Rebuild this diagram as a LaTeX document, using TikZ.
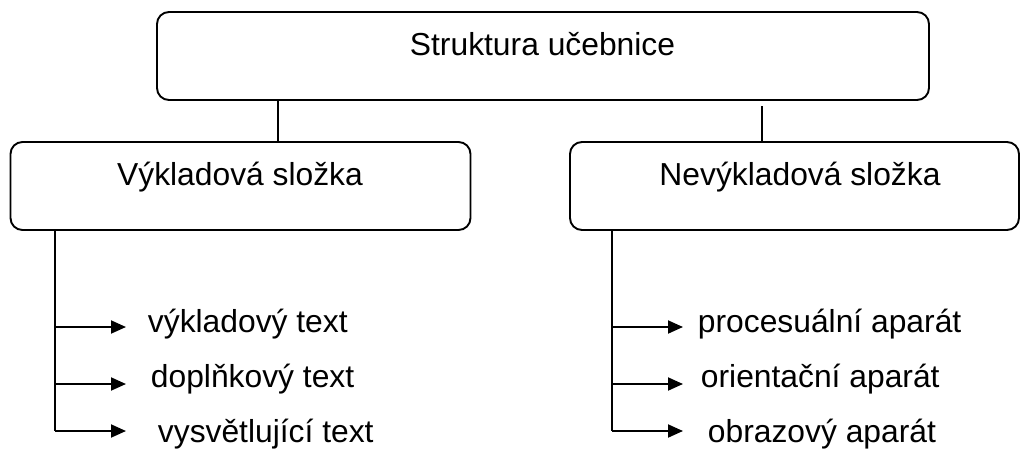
\documentclass[tikz,border=0pt]{standalone}
\usepackage{fontspec}
\setmainfont{Liberation Sans}
\usetikzlibrary{arrows.meta}
\begin{document}
\begin{tikzpicture}[x=1pt,y=-1pt,
  line width=1.9pt,
  box/.style={draw, rounded corners=12pt, inner sep=0pt},
  lbl/.style={inner sep=0pt, anchor=base, font=\fontsize{31.8}{38}\selectfont},
  item/.style={inner sep=0pt, anchor=base west, font=\fontsize{31.8}{38}\selectfont},
  arr/.style={-{Triangle[length=15pt,width=13pt]}}]
\useasboundingbox (0,0) rectangle (1021,450);

% boxes
\node[box, minimum width=772pt, minimum height=88pt] (top) at (543,56) {};
\node[box, minimum width=460pt, minimum height=88pt] (lb) at (240.5,186) {};
\node[box, minimum width=449pt, minimum height=88pt] (rb) at (794.5,186) {};

% box titles
\node[lbl] (ttop) at (542.5,55) {Struktura učebnice};
\node[lbl] (tlb) at (240,185) {Výkladová složka};
\node[lbl] (trb) at (800,185) {Nevýkladová složka};

% links from the top box
\coordinate (jl) at (278,0);
\coordinate (jr) at (762,106);
\draw (top.south -| jl) -- (lb.north -| jl);
\draw (jr) -- (rb.north -| jr);

% items
\node[item] (l1) at (147,332) {výkladový text};
\node[item] (l2) at (150,387) {doplňkový text};
\node[item] (l3) at (157,442) {vysvětlující text};
\node[item] (r1) at (697,332) {procesuální aparát};
\node[item] (r2) at (700,387) {orientační aparát};
\node[item] (r3) at (707,442) {obrazový aparát};

% trunks and arrow tips
\coordinate (tl) at (55,431);
\coordinate (tr) at (612,431);
\coordinate (al1) at (126,327);
\coordinate (al2) at (126,384);
\coordinate (al3) at (126,431);
\coordinate (ar1) at (683,327);
\coordinate (ar2) at (683,384);
\coordinate (ar3) at (683,431);

\draw (lb.south -| tl) -- (tl);
\draw (rb.south -| tr) -- (tr);
\foreach \a in {al1,al2,al3} \draw[arr] (tl |- \a) -- (\a);
\foreach \a in {ar1,ar2,ar3} \draw[arr] (tr |- \a) -- (\a);
\end{tikzpicture}
\end{document}
